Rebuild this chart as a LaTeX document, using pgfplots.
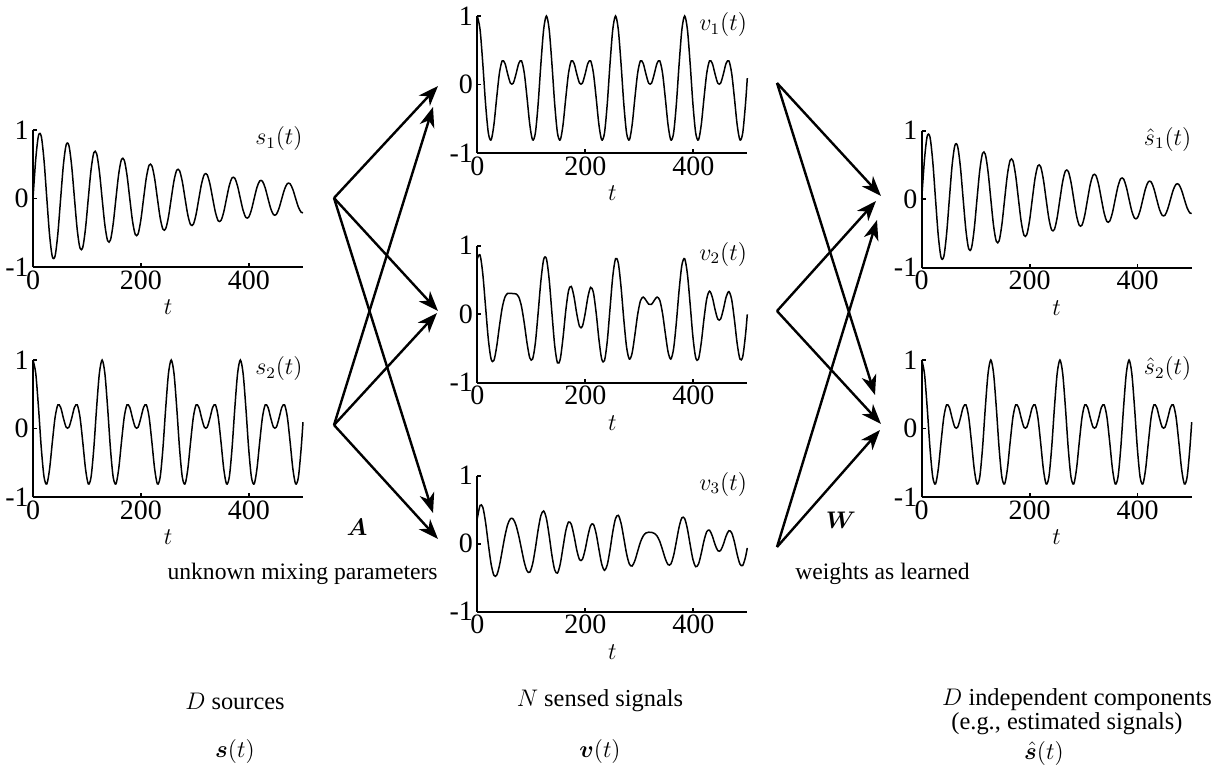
\documentclass[border=0pt]{standalone}
\usepackage{pgfplots}
\pgfplotsset{compat=1.18}
\usepackage{pgfplotstable}
\usepackage{bm}
\usepackage{fontspec}
\setmainfont{Liberation Serif}
\usetikzlibrary{arrows.meta}

\pgfplotstableread{
t s1 s2 v2 v3
0.00 0.000 1.000 0.810 0.370
5.12 0.578 0.803 0.864 0.563
10.24 0.921 0.299 0.583 0.535
15.36 0.907 -0.287 0.104 0.311
20.48 0.551 -0.709 -0.370 -0.009
25.60 0.000 -0.809 -0.655 -0.299
30.72 -0.534 -0.590 -0.676 -0.464
35.84 -0.850 -0.197 -0.475 -0.464
40.96 -0.837 0.166 -0.176 -0.324
46.08 -0.509 0.345 0.091 -0.106
51.20 0.000 0.309 0.250 0.114
56.32 0.493 0.152 0.305 0.283
61.44 0.785 0.019 0.305 0.368
66.56 0.772 0.019 0.301 0.362
71.68 0.470 0.152 0.297 0.272
76.80 0.000 0.309 0.250 0.114
81.92 -0.455 0.345 0.111 -0.081
87.04 -0.725 0.166 -0.134 -0.273
92.16 -0.713 -0.197 -0.424 -0.401
97.28 -0.434 -0.590 -0.639 -0.418
102.40 0.000 -0.809 -0.655 -0.299
107.52 0.420 -0.709 -0.419 -0.069
112.64 0.669 -0.287 0.016 0.202
117.76 0.658 0.299 0.485 0.414
122.88 0.400 0.803 0.798 0.481
128.00 0.000 1.000 0.810 0.370
133.12 -0.388 0.803 0.506 0.119
138.24 -0.617 0.299 0.014 -0.173
143.36 -0.608 -0.287 -0.457 -0.386
148.48 -0.370 -0.709 -0.711 -0.432
153.60 0.000 -0.809 -0.655 -0.299
158.72 0.358 -0.590 -0.346 -0.053
163.84 0.570 -0.197 0.051 0.189
168.96 0.561 0.166 0.342 0.319
174.08 0.341 0.345 0.405 0.285
179.20 0.000 0.309 0.250 0.114
184.32 -0.330 0.152 0.001 -0.096
189.44 -0.526 0.019 -0.180 -0.235
194.56 -0.518 0.019 -0.177 -0.231
199.68 -0.315 0.152 0.006 -0.089
204.80 0.000 0.309 0.250 0.114
209.92 0.305 0.345 0.392 0.268
215.04 0.486 0.166 0.314 0.285
220.16 0.478 -0.197 0.017 0.147
225.28 0.291 -0.590 -0.370 -0.084
230.40 0.000 -0.809 -0.655 -0.299
235.52 -0.282 -0.709 -0.678 -0.392
240.64 -0.448 -0.287 -0.398 -0.312
245.76 -0.441 0.299 0.079 -0.092
250.88 -0.268 0.803 0.551 0.174
256.00 0.000 1.000 0.810 0.370
261.12 0.260 0.803 0.746 0.417
266.24 0.414 0.299 0.395 0.301
271.36 0.407 -0.287 -0.081 0.081
276.48 0.248 -0.709 -0.482 -0.148
281.60 0.000 -0.809 -0.655 -0.299
286.72 -0.240 -0.590 -0.567 -0.328
291.84 -0.382 -0.197 -0.301 -0.249
296.96 -0.376 0.166 -0.005 -0.112
302.08 -0.229 0.345 0.194 0.023
307.20 0.000 0.309 0.250 0.114
312.32 0.221 0.152 0.205 0.158
317.44 0.353 0.019 0.146 0.169
322.56 0.347 0.019 0.143 0.167
327.68 0.211 0.152 0.201 0.153
332.80 0.000 0.309 0.250 0.114
337.92 -0.204 0.345 0.204 0.034
343.04 -0.326 0.166 0.013 -0.089
348.16 -0.320 -0.197 -0.278 -0.220
353.28 -0.195 -0.590 -0.550 -0.308
358.40 0.000 -0.809 -0.655 -0.299
363.52 0.189 -0.709 -0.504 -0.175
368.64 0.301 -0.287 -0.121 0.032
373.76 0.296 0.299 0.352 0.247
378.88 0.180 0.803 0.717 0.380
384.00 0.000 1.000 0.810 0.370
389.12 -0.174 0.803 0.586 0.217
394.24 -0.277 0.299 0.140 -0.016
399.36 -0.273 -0.287 -0.333 -0.232
404.48 -0.166 -0.709 -0.635 -0.338
409.60 0.000 -0.809 -0.655 -0.299
414.72 0.161 -0.590 -0.418 -0.144
419.84 0.256 -0.197 -0.065 0.045
424.96 0.252 0.166 0.227 0.177
430.08 0.153 0.345 0.336 0.198
435.20 0.000 0.309 0.250 0.114
440.32 -0.148 0.152 0.068 -0.012
445.44 -0.236 0.019 -0.072 -0.102
450.56 -0.233 0.019 -0.071 -0.100
455.68 -0.141 0.152 0.071 -0.009
460.80 0.000 0.309 0.250 0.114
465.92 0.137 0.345 0.330 0.191
471.04 0.218 0.166 0.215 0.161
476.16 0.215 -0.197 -0.080 0.026
481.28 0.131 -0.590 -0.430 -0.158
486.40 0.000 -0.809 -0.655 -0.299
491.52 -0.126 -0.709 -0.621 -0.320
496.64 -0.201 -0.287 -0.306 -0.198
500.00 -0.209 0.093 -0.002 -0.062
}\sig

\pgfplotsset{
  sigline/.style={black, line width=0.75pt, smooth, mark=none},
  sigax/.style={
    scale only axis, width=135pt, height=68.5pt,
    xmin=0, xmax=500, ymin=-1, ymax=1,
    axis x line*=bottom, axis y line*=left,
    axis line style={-, line width=0.9pt},
    xtick={0,200,400}, ytick={-1,0,1},
    xticklabels={0,200,400}, yticklabels={-1,0,1},
    tick align=inside, major tick length=2pt,
    tick style={black, line width=0.8pt},
    ticklabel style={font=\fontsize{14}{16}\selectfont},
    xticklabel style={inner sep=1.5pt},
    yticklabel style={inner sep=2pt},
    xlabel={$t$},
    every axis x label/.style={at={(axis description cs:0.5,0)}, anchor=center, yshift=-20pt, font=\fontsize{13}{15}\selectfont},
    clip=false,
  },
}
\newcommand{\lab}[1]{\node[anchor=north east, inner sep=0pt, yshift=2pt, font=\fontsize{12}{14}\selectfont] at (rel axis cs:1,1) {#1};}

\begin{document}
\begin{tikzpicture}
\begin{scope}[x=0.5pt, y=-0.5pt]
  \path[use as bounding box] (0,0) rectangle (1223,767);
  \coordinate (S1) at (33,130);
  \coordinate (S2) at (33,360);
  \coordinate (V1) at (477.3,16);
  \coordinate (V2) at (477.3,245.7);
  \coordinate (V3) at (477.3,475.7);
  \coordinate (H1) at (921.7,130.7);
  \coordinate (H2) at (921.7,360);
  \tikzset{arr/.style={-{Stealth[length=10pt,width=7.5pt,inset=3pt]}, line width=1.2pt, black},
           mycap/.style={inner sep=0pt, font=\fontsize{11.8}{13}\selectfont},
           bcap/.style={inner sep=0pt, font=\fontsize{12.2}{14}\selectfont}}
  \draw[arr] (334,198) -- (438,86);
  \draw[arr] (334,198) -- (438,311);
  \draw[arr] (334,198) -- (433,513);
  \draw[arr] (334,425) -- (433,107);
  \draw[arr] (334,425) -- (437,313);
  \draw[arr] (334,425) -- (438,539);
  \draw[arr] (777,83) -- (881,196);
  \draw[arr] (777,83) -- (875,395);
  \draw[arr] (777,311) -- (876,201);
  \draw[arr] (777,311) -- (881,424);
  \draw[arr] (777,547) -- (877,220);
  \draw[arr] (777,547) -- (880,430);
  \node[font=\fontsize{12}{14}\selectfont] at (357,527) {$\bm{A}$};
  \node[font=\fontsize{12}{14}\selectfont] at (841,520) {$\bm{W}$};
  \node[mycap, anchor=east] at (438,574) {unknown mixing parameters};
  \node[mycap, anchor=west] at (795,574) {weights as learned};
  \node[bcap] at (235,701) {$D$ sources};
  \node[bcap] at (235,751) {$\bm{s}(t)$};
  \node[bcap] at (600,701) {$N$ sensed signals};
  \node[bcap] at (600,751) {$\bm{v}(t)$};
  \node[bcap] at (1077,700) {$D$ independent components};
  \node[bcap] at (1067,724) {(e.g., estimated signals)};
  \node[bcap] at (1044,753) {$\hat{\bm{s}}(t)$};
\end{scope}

\begin{axis}[sigax, at={(S1)}, anchor=north west]
  \addplot[sigline] table[x=t, y=s1] {\sig};
  \lab{$s_1(t)$}
\end{axis}
\begin{axis}[sigax, at={(S2)}, anchor=north west]
  \addplot[sigline] table[x=t, y=s2] {\sig};
  \lab{$s_2(t)$}
\end{axis}
\begin{axis}[sigax, at={(V1)}, anchor=north west]
  \addplot[sigline] table[x=t, y=s2] {\sig};
  \lab{$v_1(t)$}
\end{axis}
\begin{axis}[sigax, at={(V2)}, anchor=north west]
  \addplot[sigline] table[x=t, y=v2] {\sig};
  \lab{$v_2(t)$}
\end{axis}
\begin{axis}[sigax, at={(V3)}, anchor=north west, height=68pt]
  \addplot[sigline] table[x=t, y=v3] {\sig};
  \lab{$v_3(t)$}
\end{axis}
\begin{axis}[sigax, at={(H1)}, anchor=north west]
  \addplot[sigline] table[x=t, y=s1] {\sig};
  \lab{$\hat{s}_1(t)$}
\end{axis}
\begin{axis}[sigax, at={(H2)}, anchor=north west]
  \addplot[sigline] table[x=t, y=s2] {\sig};
  \lab{$\hat{s}_2(t)$}
\end{axis}
\end{tikzpicture}
\end{document}
